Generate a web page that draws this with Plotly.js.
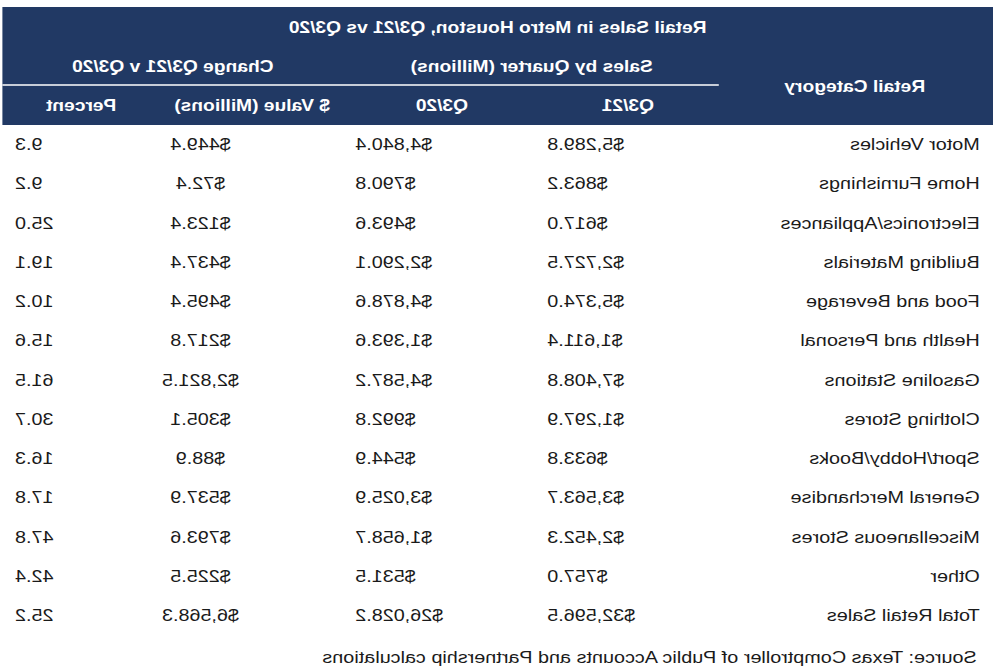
<!DOCTYPE html>
<html>
<head>
<meta charset="utf-8">
<script src="https://cdn.plot.ly/plotly-3.0.1.min.js"></script>
<style>
  html, body { margin: 0; padding: 0; background: #ffffff; overflow: hidden; }
  #wrap { position: absolute; left: 0; top: 0; width: 1002px; height: 670px; overflow: hidden; }
  /* the reference picture is mirrored left-right and stretched horizontally */
  #chart { position: absolute; left: 0; top: 0; width: 835px; height: 670px;
           transform-origin: 0 0; transform: translateX(1002px) scaleX(-1.2); }
</style>
</head>
<body>
<div id="wrap"><div id="chart"></div></div>
<script>
// ---- data ----
const title = "Retail Sales in Metro Houston, Q3/21 vs Q3/20";
const groupSales = "Sales by Quarter (Millions)";
const groupChange = "Change Q3/21 v Q3/20";
const colCategory = "Retail Category";
const colQ321 = "Q3/21";
const colQ320 = "Q3/20";
const colChange = "$ Value (Millions)";
const colPct = "Percent";
const source = "Source: Texas Comptroller of Public Accounts and Partnership calculations";

const categories = [
  "Motor Vehicles", "Home Furnishings", "Electronics/Appliances", "Building Materials",
  "Food and Beverage", "Health and Personal", "Gasoline Stations", "Clothing Stores",
  "Sport/Hobby/Books", "General Merchandise", "Miscellaneous Stores", "Other", "Total Retail Sales"
];
const salesQ321 = [5289.8, 863.2, 617.0, 2727.5, 5374.0, 1611.4, 7408.8, 1297.9, 633.8, 3563.7, 2452.3, 757.0, 32596.5];
const salesQ320 = [4840.4, 790.8, 493.6, 2290.1, 4878.6, 1393.6, 4587.2, 992.8, 544.9, 3025.9, 1658.7, 531.5, 26028.2];
const changeValue = [449.4, 72.4, 123.4, 437.4, 495.4, 217.8, 2821.5, 305.1, 88.9, 537.9, 793.6, 225.5, 6568.3];
const changePct = [9.3, 9.2, 25.0, 19.1, 10.2, 15.6, 61.5, 30.7, 16.3, 17.8, 47.8, 42.4, 25.2];

// ---- layout constants ----
const W = 835, H = 670;
const NAVY = "#213964";
const FONT = "Liberation Sans, Arial, sans-serif";
const py = p => 1 - p / H;   // pixel row -> paper y
const COLX = { cat: 18.5, q321: 379, q320: 539, chg: 668, pct: 822.5 };

const money = v => "$" + v.toLocaleString("en-US", {minimumFractionDigits: 1, maximumFractionDigits: 1});
const pct = v => v.toFixed(1);

function column(xpos, texts, pos) {
  return {
    type: "scatter", mode: "text", hoverinfo: "skip",
    x: categories.map(() => xpos), y: categories,
    text: texts, textposition: pos,
    textfont: { family: FONT, size: 16.5, color: "#1a1a1a" },
    cliponaxis: false
  };
}

const traces = [
  column(COLX.cat, categories, "middle right"),
  column(COLX.q321, salesQ321.map(money), "middle left"),
  column(COLX.q320, salesQ320.map(money), "middle left"),
  column(COLX.chg, changeValue.map(money), "middle center"),
  column(COLX.pct, changePct.map(pct), "middle left")
];

function head(text, x, yPix) {
  return { text: text, x: x, y: py(yPix), xref: "x", yref: "paper", showarrow: false,
           xanchor: "center", yanchor: "middle",
           font: { family: FONT, size: 16, color: "#ffffff", weight: "bold" } };
}

const annotations = [
  head("<b>" + title + "</b>", 420, 27),
  head("<b>" + groupSales + "</b>", 392, 67),
  head("<b>" + groupChange + "</b>", 691, 67),
  head("<b>" + colCategory + "</b>", 122, 87),
  head("<b>" + colQ321 + "</b>", 312, 105),
  head("<b>" + colQ320 + "</b>", 467, 105),
  head("<b>" + colChange + "</b>", 625, 105),
  head("<b>" + colPct + "</b>", 767, 105),
  { text: source, x: 18.5, y: py(657), xref: "x", yref: "paper", showarrow: false,
    xanchor: "left", yanchor: "middle", font: { family: FONT, size: 16.5, color: "#1a1a1a" } }
];

const shapes = [
  { type: "rect", xref: "x", yref: "paper", x0: 7.5, x1: 833, y0: py(125), y1: py(7),
    fillcolor: NAVY, line: { width: 0 }, layer: "below" },
  { type: "line", xref: "x", yref: "paper", x0: 236, x1: 833, y0: py(85), y1: py(85),
    line: { color: "#ffffff", width: 1.5 }, layer: "below" }
];

// rows are spaced 39.25 px apart, the first centred at y = 146 px
const rowGap = 39.25, firstRow = 146;
const yTop = -firstRow / rowGap;
const yBottom = yTop + H / rowGap;

const layout = {
  width: W, height: H,
  margin: { l: 0, r: 0, t: 0, b: 0, pad: 0 },
  paper_bgcolor: "#ffffff", plot_bgcolor: "#ffffff",
  showlegend: false,
  xaxis: { range: [0, W], visible: false, fixedrange: true },
  yaxis: { type: "category", categoryorder: "array", categoryarray: categories,
           range: [yBottom, yTop], visible: false, fixedrange: true },
  shapes: shapes,
  annotations: annotations
};

Plotly.newPlot("chart", traces, layout, { displayModeBar: false, staticPlot: true });
</script>
</body>
</html>
